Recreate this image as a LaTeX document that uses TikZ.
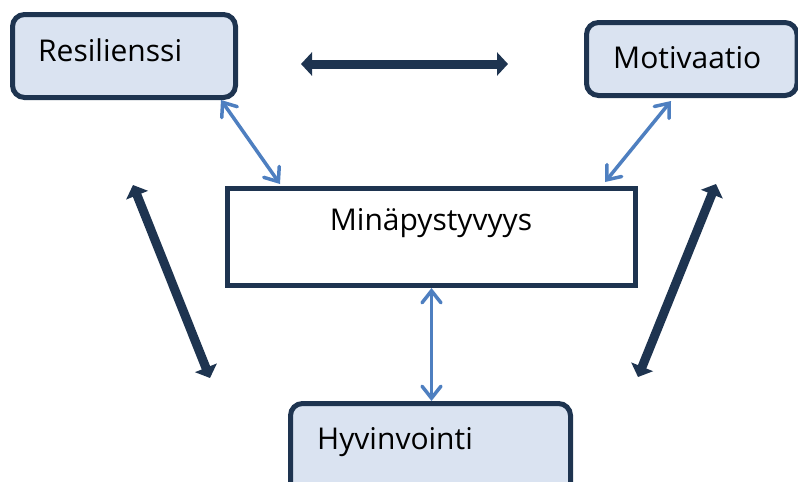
\documentclass[tikz,border=0pt]{standalone}
\usepackage{fontspec}
\setmainfont{Open Sans}
\usetikzlibrary{arrows.meta}
\definecolor{navy}{HTML}{1E3450}
\definecolor{boxfill}{HTML}{DAE3F1}
\definecolor{linkblue}{HTML}{4E7FC0}
\tikzset{
  roundbox/.style={draw=navy, line width=5pt, fill=boxfill, rounded corners=12pt, inner sep=0pt},
  squarebox/.style={draw=navy, line width=5pt, fill=white, inner sep=0pt},
  label text/.style={inner sep=0pt, font=\fontsize{30}{34}\selectfont, text=black},
  thick link/.style={draw=navy, line width=9pt, {Triangle[width=23pt,length=11pt]}-{Triangle[width=23pt,length=11pt]}},
  thin link/.style={draw=linkblue, line width=3.5pt, line cap=round,
    {Straight Barb[length=12pt,width=19pt,line cap=round]}-{Straight Barb[length=12pt,width=19pt,line cap=round]}}
}
\begin{document}
\begin{tikzpicture}[x=1pt,y=-1pt]
\useasboundingbox (0,0) rectangle (798,482);
\clip (0,0) rectangle (798,482);
% boxes
\node[roundbox, minimum width=223pt, minimum height=83pt] (res) at (124,56) {};
\node[roundbox, minimum width=210.5pt, minimum height=73pt] (mot) at (691.75,59) {};
\node[squarebox, minimum width=408pt, minimum height=97pt] (min) at (431.5,237) {};
\node[roundbox, minimum width=280pt, minimum height=92pt] (hyv) at (430.5,449.5) {};
% texts
\node[label text, anchor=base west] (tres) at (38,61) {Resilienssi};
\node[label text, anchor=base west] (tmot) at (613,68) {Motivaatio};
\node[label text, anchor=base] (tmin) at (431,230) {Minäpystyvyys};
\node[label text, anchor=base west] (thyv) at (317,449) {Hyvinvointi};
% free ends of thick arrows
\coordinate (h1) at (301,64);
\coordinate (h2) at (508,64);
\coordinate (l1) at (133,185);
\coordinate (l2) at (210,378);
\coordinate (r1) at (716,184);
\coordinate (r2) at (638,377);
\path[thick link] (h1) -- (h2);
\path[thick link] (l1) -- (l2);
\path[thick link] (r1) -- (r2);
% thin links
\path[thin link] ([xshift=-17pt]res.south east) -- ([xshift=55pt,yshift=2pt]min.north west);
\path[thin link] ([xshift=87pt,yshift=-3pt]mot.south west) -- ([xshift=-33pt,yshift=4pt]min.north east);
\path[thin link] (min.south) -- (min.south |- hyv.north);
\end{tikzpicture}
\end{document}
